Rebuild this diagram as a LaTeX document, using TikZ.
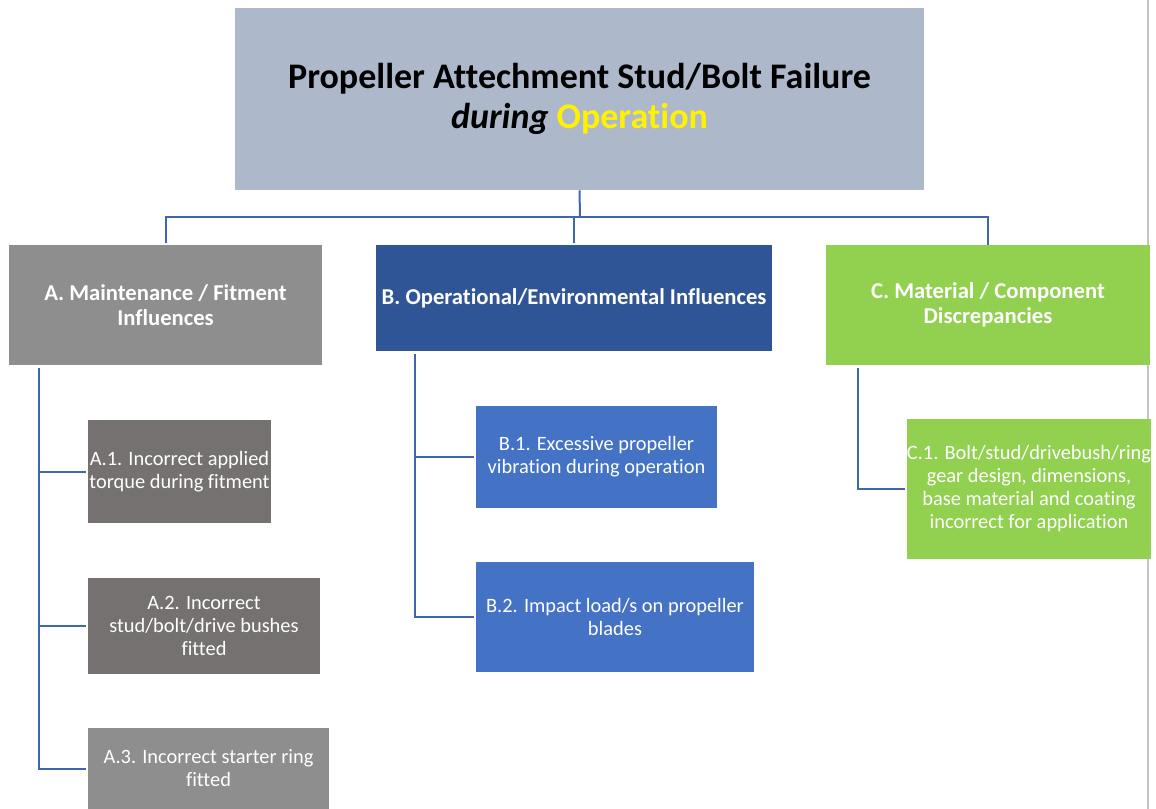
\documentclass[tikz,border=0pt]{standalone}
\usepackage{fontspec}
\setmainfont[Ligatures=NoCommon]{Carlito}
\usepackage{xcolor}
\definecolor{topblue}{HTML}{ADB9CA}
\definecolor{maingray}{HTML}{8E8E8E}
\definecolor{darkgray}{HTML}{767171}
\definecolor{opblue}{HTML}{2F5597}
\definecolor{subblue}{HTML}{4472C4}
\definecolor{matgreen}{HTML}{92D050}
\definecolor{linkblue}{HTML}{4066AE}
\definecolor{pagegray}{HTML}{C4C4C4}

\begin{document}
\begin{tikzpicture} [
      x = 0.75pt, y = -0.75pt,
      every node/.style = { rectangle, inner sep = 0, align = center },
      cat/.style = { text = white, font = \fontsize{17}{18.75}\selectfont\bfseries },
      cause/.style = { text = white, font = \fontsize{15.3}{17.25}\selectfont },
      link/.style = { linkblue, line width = 1.5pt }
      ]
    \useasboundingbox (0,0) rectangle (1156,809);
    \draw [pagegray, line width = 1.6pt] (1148,0) -- (1148,809);

    % top event
    \node [fill = topblue, minimum width = 516.75pt, minimum height = 136.5pt,
           font = \fontsize{27}{30}\selectfont\bfseries] (top) at (579.5,99)
      {Propeller Attechment Stud/Bolt Failure\\ \textit{during} \textcolor{yellow}{Operation}};

    % categories
    \node [cat, fill = maingray, minimum width = 234.75pt, minimum height = 90pt] (a) at (165.5,305)
      {A. Maintenance / Fitment\\ Influences};
    \node [cat, fill = opblue, minimum width = 297pt, minimum height = 79.5pt] (b) at (574,298)
      {B. Operational/Environmental Influences};
    \node [cat, fill = matgreen, minimum width = 243pt, minimum height = 90pt] (c) at (988,305)
      {C. Material / Component\\ Discrepancies};

    % causes
    \node [cause, fill = darkgray, minimum width = 137.25pt, minimum height = 77.25pt] (a1) at (179.5,471.5)
      {A.1. Incorrect applied\\ torque during fitment};
    \node [cause, fill = darkgray, minimum width = 174pt, minimum height = 72pt] (a2) at (204,626)
      {A.2. Incorrect\\ stud/bolt/drive bushes\\ fitted};
    \node [cause, fill = maingray, minimum width = 180.75pt, minimum height = 60.75pt] (a3) at (208.5,768.5)
      {A.3. Incorrect starter ring\\ fitted};
    \node [cause, fill = subblue, minimum width = 180.75pt, minimum height = 76.5pt] (b1) at (596.5,457)
      {B.1. Excessive propeller\\ vibration during operation};
    \node [cause, fill = subblue, minimum width = 208.5pt, minimum height = 82.5pt] (b2) at (615,617)
      {B.2. Impact load/s on propeller\\ blades};
    \node [cause, fill = matgreen, minimum width = 181.5pt, minimum height = 105pt] (c1) at (1029,489)
      {C.1. Bolt/stud/drivebush/ring\\ gear design, dimensions,\\ base material and coating\\ incorrect for application};

    % connectors
    \coordinate (bus) at (580,217);
    \coordinate (aspine) at (39,368);
    \coordinate (bspine) at (415,354);
    \coordinate (cspine) at (858,368);
    \draw [link] (top.south) -- (bus);
    \draw [link, shorten < = 1.5pt] (a.north) -- (a.north |- bus) -- (c.north |- bus) -- (c.north);
    \draw [link, shorten < = 1.5pt] (b.north) -- (b.north |- bus);
    \draw [link, shorten > = 1.5pt] (aspine) |- (a3.west);
    \draw [link, shorten > = 1.5pt] (aspine |- a1.west) -- (a1.west);
    \draw [link, shorten > = 1.5pt] (aspine |- a2.west) -- (a2.west);
    \draw [link, shorten > = 1.5pt] (bspine) |- (b2.west);
    \draw [link, shorten > = 1.5pt] (bspine |- b1.west) -- (b1.west);
    \draw [link, shorten > = 1.5pt] (cspine) |- (c1.west);
\end{tikzpicture}
\end{document}
